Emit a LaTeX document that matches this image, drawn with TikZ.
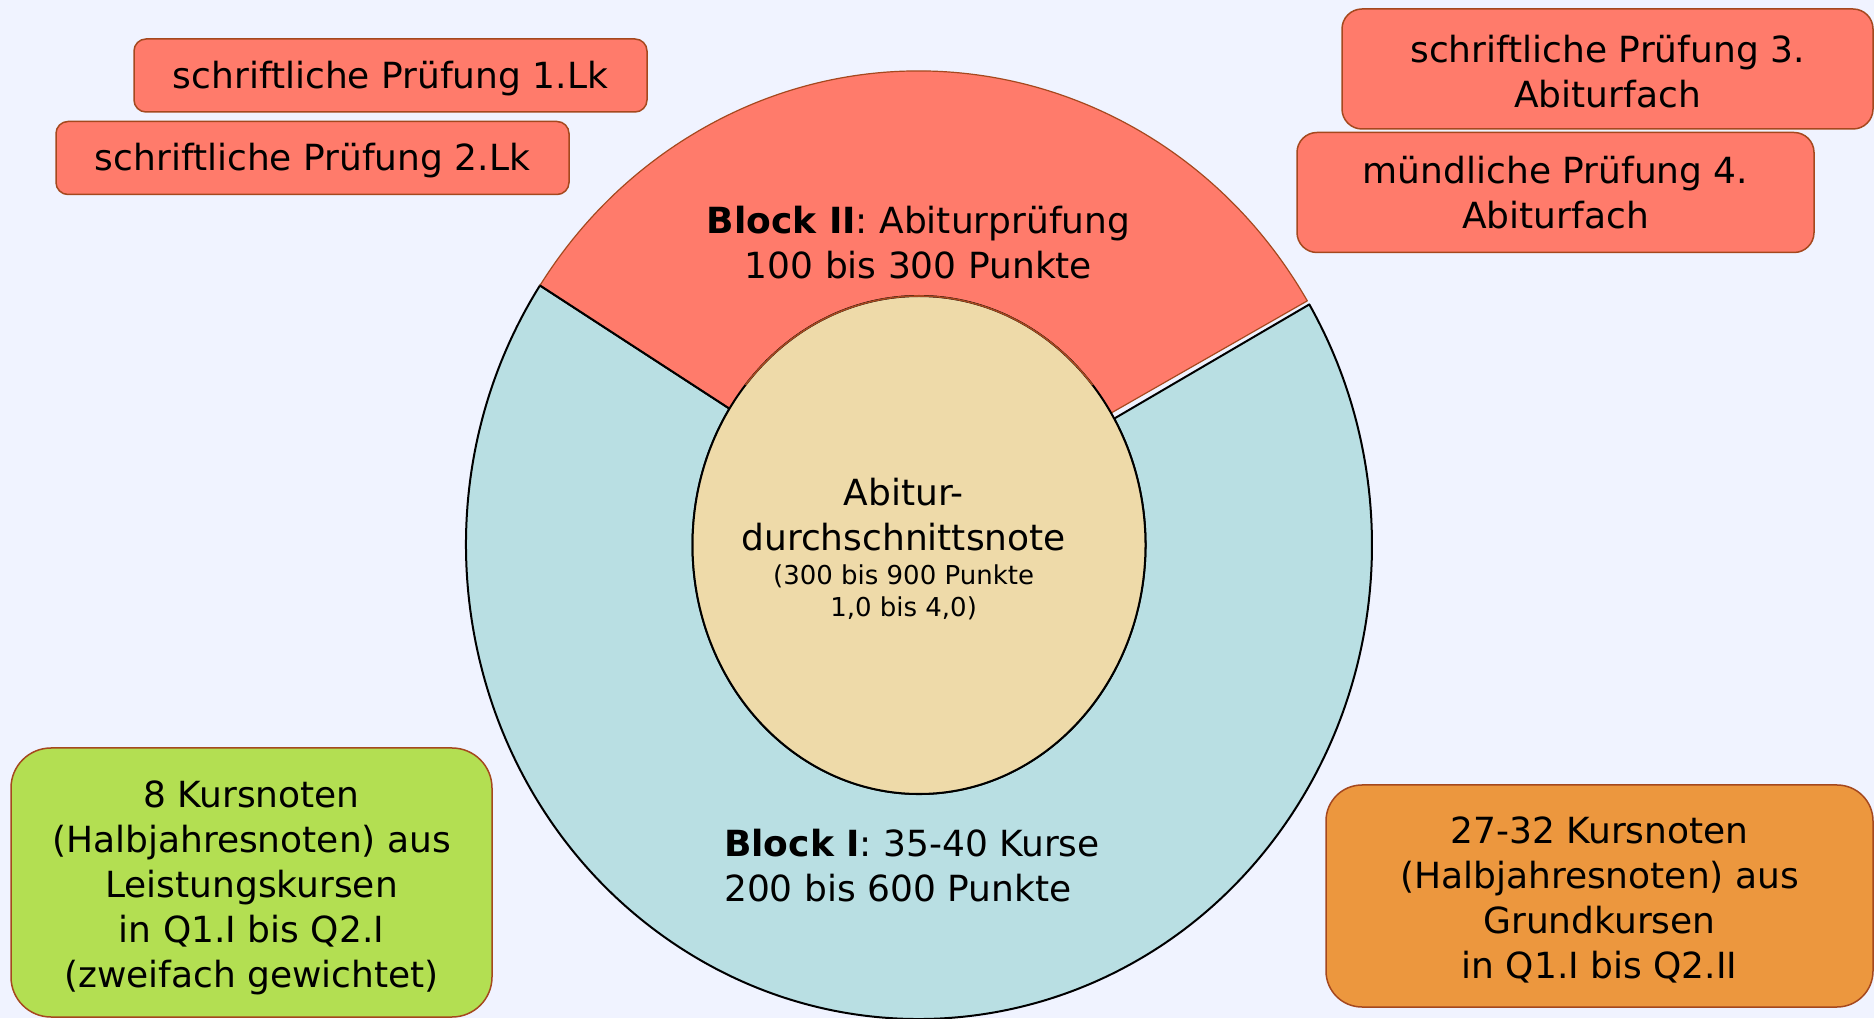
\documentclass[tikz,border=0pt]{standalone}
\usepackage{fontspec}
\setmainfont{DejaVu Sans}
\usepackage{xcolor}
\usepackage{tikz}
\usetikzlibrary{positioning, calc}

\definecolor{bgpage}{RGB}{240,243,255}
\definecolor{examred}{RGB}{255,123,107}
\definecolor{courseblue}{RGB}{185,223,227}
\definecolor{avgsand}{RGB}{238,218,169}
\definecolor{lkgreen}{RGB}{179,223,82}
\definecolor{gkorange}{RGB}{236,151,62}
\definecolor{boxline}{RGB}{165,72,30}

\begin{document}
\begin{tikzpicture}[x=1pt, y=1pt,
    box/.style={rectangle, draw=boxline, line width=1.5pt, rounded corners=12pt, align=center, inner sep=0pt, font=\fontsize{36}{45}\selectfont},
    blocktext/.style={align=center, inner sep=0pt, font=\fontsize{36}{45}\selectfont},
    ring/.style={line width=2pt, line join=round}
]
    \useasboundingbox (0,0) rectangle (1874,1018);
    \fill[bgpage] (0,0) rectangle (1874,1018);

    % ring: block I (blue) and block II (red)
    \coordinate (ctr) at (919,473);
    \draw[ring, fill=courseblue] ($(ctr)+(146.8:453 and 474)$)
        arc[start angle=146.8, end angle=390.5, x radius=453, y radius=474]
        -- ($(ctr)+(30.5:226.5 and 249)$)
        arc[start angle=30.5, end angle=-213.2, x radius=226.5, y radius=249] -- cycle;
    \draw[ring, draw=boxline, line width=1.2pt, fill=examred] ($(ctr)+(31:453 and 474)$)
        arc[start angle=31, end angle=146.8, x radius=453, y radius=474]
        -- ($(ctr)+(146.8:226.5 and 249)$)
        arc[start angle=146.8, end angle=32, x radius=226.5, y radius=249] -- cycle;
    \draw[ring] ($(ctr)+(146.8:453 and 474)$) -- ($(ctr)+(146.8:226.5 and 249)$);
    \draw[ring, fill=avgsand] (ctr) ellipse[x radius=226.5, y radius=249];
    \draw[ring, draw=boxline, line width=1.6pt] ($(ctr)+(40:226.5 and 249)$)
        arc[start angle=40, end angle=140, x radius=226.5, y radius=249];

    \node[blocktext] (blockii) at (918.5,775) {\textbf{Block II}: Abiturprüfung\\100 bis 300 Punkte};
    \node[blocktext, align=left] (blocki) at (912,152) {\textbf{Block I}: 35-40 Kurse\\200 bis 600 Punkte};
    \node[blocktext] (avgnote) at (903.6,503) {Abitur-\\durchschnittsnote};
    \node[blocktext, font=\fontsize{26}{32}\selectfont] (avgrange) at (903.6,426) {(300 bis 900 Punkte\\1,0 bis 4,0)};

    % exam boxes
    \node[box, fill=examred, minimum width=513pt, minimum height=73pt, text height=34.5pt] (lk1) at (390.5,942.5) {schriftliche Prüfung 1.Lk};
    \node[box, fill=examred, minimum width=513pt, minimum height=73pt, text height=32.5pt, below left=8pt and 78pt of lk1.south east] (lk2) {schriftliche Prüfung 2.Lk};
    \node[box, fill=examred, minimum width=531pt, minimum height=120pt, rounded corners=20pt] (abi3) at (1607.5,949) {\rule{0pt}{32.5pt}schriftliche Prüfung 3.\\Abiturfach};
    \node[box, fill=examred, minimum width=517pt, minimum height=120pt, rounded corners=20pt, below left=2pt and 59pt of abi3.south east] (abi4) {mündliche Prüfung 4.\\Abiturfach};

    % course boxes
    \node[box, fill=lkgreen, minimum width=481pt, minimum height=269pt, rounded corners=40pt] (lkcourses) at (251.5,135.5) {\rule{0pt}{38pt}8 Kursnoten\\(Halbjahresnoten) aus\\Leistungskursen\\in Q1.I bis Q2.I\\(zweifach gewichtet)};
    \node[box, fill=gkorange, minimum width=547pt, minimum height=222pt, rounded corners=36pt] (gkcourses) at (1599.5,122) {\rule{0pt}{35pt}27-32 Kursnoten\\(Halbjahresnoten) aus\\Grundkursen\\in Q1.I bis Q2.II};
\end{tikzpicture}
\end{document}
